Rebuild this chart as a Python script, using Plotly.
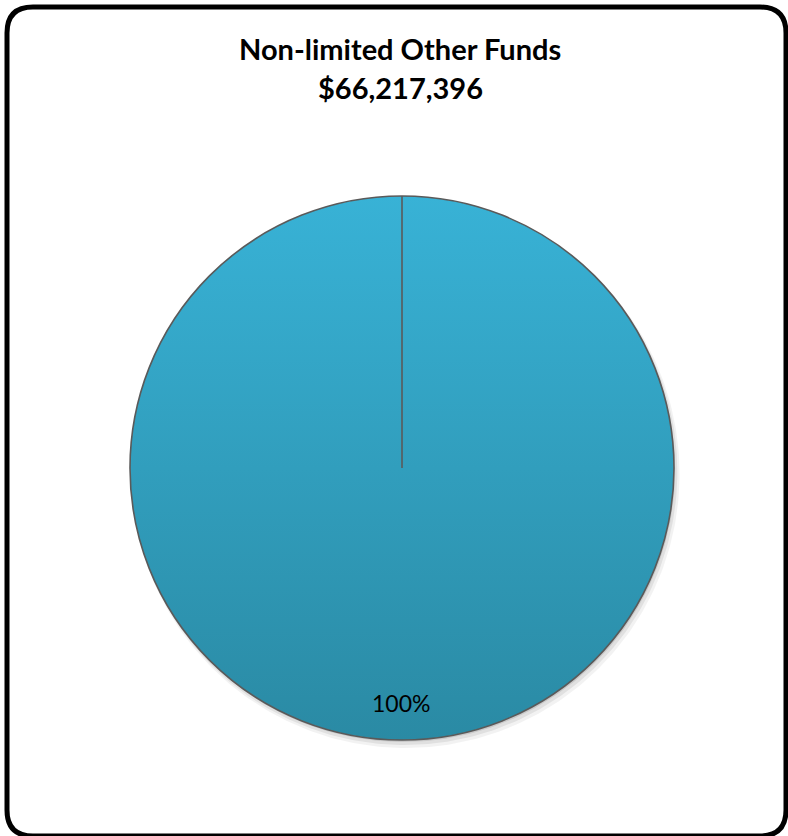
import numpy as np
import plotly.graph_objects as go

# ---- data ----
labels = ["Non-limited Other Funds"]
values = [66217396]
title_text = "Non-limited Other Funds"

# ---- geometry (pixels, measured from top-left of the page) ----
W, H = 788, 836
cx, cy, r = 402, 468, 272
top_color = "#38b2d6"
bottom_color = "#2a8aa4"
edge_color = "#5a5a5a"

total = sum(values)
pct_text = f"{values[0] / total * 100:.0f}%"
title_value = f"${total:,.0f}"

fig = go.Figure()

def circle(x0, y0, rad, n=361):
    t = np.linspace(0, 2 * np.pi, n)
    return x0 + rad * np.cos(t), (H - y0) + rad * np.sin(t)

# soft drop shadow below-right of the pie
for off, extra, alpha in [(6, 2, 0.05), (4, 1, 0.07), (2, 0, 0.10)]:
    sx, sy = circle(cx + off * 0.6, cy + off, r + extra)
    fig.add_trace(go.Scatter(x=sx, y=sy, mode="lines", fill="toself",
                             fillcolor=f"rgba(0,0,0,{alpha})",
                             line=dict(width=0), hoverinfo="skip",
                             showlegend=False))

# vertical gradient fill of the single slice
gx, gy = circle(cx, cy, r)
fig.add_trace(go.Scatter(
    x=gx, y=gy, mode="lines", fill="toself",
    fillgradient=dict(type="vertical",
                      colorscale=[[0, bottom_color], [1, top_color]]),
    line=dict(width=0), hoverinfo="skip", showlegend=False))

# the pie itself (outline + hover), drawn over the gradient
fig.add_trace(go.Pie(
    labels=labels, values=values,
    marker=dict(colors=["rgba(0,0,0,0)"], line=dict(color=edge_color, width=1.6)),
    textinfo="none", sort=False, direction="clockwise", rotation=0,
    domain=dict(x=[(cx - r) / W, (cx + r) / W],
                y=[(H - cy - r) / H, (H - cy + r) / H]),
    showlegend=False,
))

# slice boundary from centre to 12 o'clock
fig.add_shape(type="line", xref="x", yref="y",
              x0=cx, y0=H - cy, x1=cx, y1=H - cy + r,
              line=dict(color=edge_color, width=1.6))

# rounded chart frame (runs to the bottom edge of the page)
x0, y0, x1, y1, rad = 7, 7, 786, 836, 26
path = (f"M {x0 + rad},{H - y0} L {x1 - rad},{H - y0} "
        f"Q {x1},{H - y0} {x1},{H - y0 - rad} "
        f"L {x1},{H - y1 + rad} Q {x1},{H - y1} {x1 - rad},{H - y1} "
        f"L {x0 + rad},{H - y1} Q {x0},{H - y1} {x0},{H - y1 + rad} "
        f"L {x0},{H - y0 - rad} Q {x0},{H - y0} {x0 + rad},{H - y0} Z")
fig.add_shape(type="path", xref="x", yref="y", path=path,
              line=dict(color="black", width=5), fillcolor="rgba(0,0,0,0)")

# title
fig.add_annotation(x=400, y=H - 48, xref="x", yref="y", text=f"<b>{title_text}</b>",
                   showarrow=False, font=dict(family="Lato", size=29, color="black"))
fig.add_annotation(x=400, y=H - 87, xref="x", yref="y", text=f"<b>{title_value}</b>",
                   showarrow=False, font=dict(family="Lato", size=29, color="black"))

# percentage label
fig.add_annotation(x=401, y=H - 703, xref="x", yref="y", text=pct_text,
                   showarrow=False, font=dict(family="Lato", size=23, color="black"))

fig.update_layout(
    width=W, height=H,
    margin=dict(l=0, r=0, t=0, b=0),
    paper_bgcolor="white", plot_bgcolor="white",
    xaxis=dict(range=[0, W], visible=False, fixedrange=True),
    yaxis=dict(range=[0, H], visible=False, fixedrange=True),
    showlegend=False,
)

fig.write_html("out.html")
